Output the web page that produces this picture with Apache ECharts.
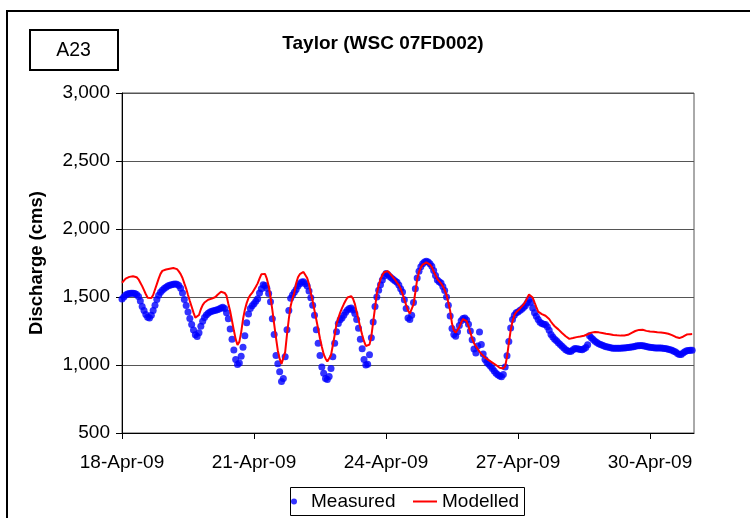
<!DOCTYPE html>
<html><head><meta charset="utf-8">
<script src="https://cdn.jsdelivr.net/npm/echarts@6/dist/echarts.min.js"></script>
<style>html,body{margin:0;padding:0;background:#fff}#c{width:750px;height:518px}</style>
</head><body><div id="c"></div>
<script>
// hourly values starting 18-Apr-09 00:00
const xTickHours = [0, 72, 144, 216, 288];
const xTickLabels = ['18-Apr-09', '21-Apr-09', '24-Apr-09', '27-Apr-09', '30-Apr-09'];
const yTickValues = [500, 1000, 1500, 2000, 2500, 3000];
const yTickLabels = ['500', '1,000', '1,500', '2,000', '2,500', '3,000'];

const measured = [
  1485,1500,1515,1522,1525,1527,1527,1525,1518,1503,1470,1430,1400,1372,1352,1346,1365,1400,1440,1482,1512,1535,1550,1562,
  1572,1580,1586,1590,1594,1596,1594,1585,1565,1530,1482,1438,1390,1342,1297,1257,1222,1210,1238,1285,1322,1350,1368,1380,
  1390,1395,1398,1402,1407,1412,1420,1425,1415,1385,1340,1265,1190,1110,1040,1003,1015,1065,1130,1215,1310,1375,1415,1435,
  1450,1468,1488,1530,1560,1590,1585,1565,1525,1465,1340,1225,1070,1010,950,878,900,1060,1260,1400,1490,1515,1535,1555,
  1580,1598,1610,1612,1598,1580,1545,1495,1440,1365,1260,1160,1070,985,940,900,893,915,975,1060,1160,1245,1305,1333,
  1345,1365,1388,1405,1415,1419,1405,1378,1335,1270,1190,1120,1040,1000,1005,1076,1200,1316,1430,1500,1550,1590,1625,1655,
  1672,1665,1650,1640,1628,1618,1608,1588,1560,1536,1480,1415,1345,1335,1365,1460,1560,1640,1690,1722,1745,1757,1762,1758,
  1745,1727,1695,1658,1625,1612,1603,1578,1548,1500,1440,1360,1268,1225,1212,1245,1290,1325,1342,1346,1330,1300,1250,1185,
  1118,1088,1140,1242,1150,1080,1040,1020,1005,990,975,955,940,928,920,914,930,985,1068,1172,1272,1335,1365,1385,
  1390,1400,1410,1422,1436,1456,1482,1462,1420,1385,1358,1335,1315,1305,1300,1297,1282,1255,1225,1205,1190,1178,1163,1150,
  1137,1125,1112,1104,1100,1102,1112,1122,1120,1117,1114,1113,1120,1128,1148,1215,1200,1188,1175,1165,1157,1150,1145,1140,
  1135,1132,1128,1125,1124,1123,1123,1123,1124,1125,1125,1126,1128,1130,1132,1135,1138,1141,1142,1143,1142,1140,1136,1132,
  1130,1128,1126,1125,1125,1125,1125,1124,1122,1119,1116,1113,1108,1102,1095,1085,1078,1078,1088,1098,1104,1107,1108,1108
];

const modelled = [
  1605,1618,1635,1644,1648,1651,1652,1650,1645,1630,1605,1580,1550,1520,1495,1485,1492,1515,1555,1595,1635,1670,1692,1698,
  1702,1705,1708,1711,1713,1712,1705,1688,1668,1640,1600,1562,1515,1470,1428,1385,1348,1352,1368,1410,1440,1460,1472,1480,
  1484,1488,1492,1500,1515,1525,1538,1543,1530,1510,1450,1395,1325,1255,1190,1148,1170,1240,1336,1405,1455,1492,1515,1530,
  1544,1575,1600,1635,1667,1678,1670,1635,1581,1500,1405,1300,1200,1105,1045,1008,1005,1095,1225,1340,1434,1490,1530,1600,
  1645,1668,1680,1684,1672,1640,1595,1530,1470,1400,1333,1265,1195,1135,1080,1048,1025,1030,1072,1145,1220,1300,1345,1385,
  1418,1448,1474,1496,1510,1506,1488,1450,1390,1335,1275,1222,1175,1140,1127,1150,1210,1315,1420,1525,1585,1630,1660,1682,
  1695,1690,1678,1660,1642,1625,1606,1588,1560,1525,1482,1440,1400,1378,1390,1445,1535,1630,1685,1718,1738,1750,1755,1752,
  1738,1720,1688,1660,1632,1620,1600,1580,1552,1515,1460,1398,1305,1255,1237,1248,1280,1312,1338,1343,1322,1285,1240,1195,
  1160,1137,1118,1098,1082,1068,1055,1045,1036,1028,1018,1008,1000,988,980,973,975,990,1060,1160,1255,1321,1365,1388,
  1402,1414,1428,1444,1465,1492,1518,1522,1496,1460,1425,1392,1378,1374,1370,1362,1353,1338,1318,1300,1285,1273,1262,1250,
  1235,1222,1211,1200,1192,1192,1198,1202,1205,1207,1209,1211,1215,1220,1226,1232,1238,1242,1243,1242,1240,1237,1235,1233,
  1230,1228,1226,1223,1221,1219,1218,1216,1216,1216,1217,1219,1222,1228,1236,1244,1250,1255,1258,1260,1259,1255,1251,1248,
  1246,1245,1244,1242,1240,1240,1239,1237,1235,1233,1230,1226,1220,1213,1206,1200,1198,1199,1208,1218,1224,1226,1227,1228
];

const FONT = '"Liberation Sans", Arial, Helvetica, sans-serif';
const chart = echarts.init(document.getElementById('c'), null, { renderer: 'canvas' });

chart.setOption({
  animation: false,
  backgroundColor: '#fff',
  textStyle: { fontFamily: FONT, color: '#000' },
  grid: {
    left: 122, top: 93, width: 572, height: 340,
    show: true, borderColor: '#555', borderWidth: 1, backgroundColor: 'transparent'
  },
  xAxis: {
    type: 'value', min: 0, max: 312, interval: 72,
    axisLine: { show: true, lineStyle: { color: '#000', width: 1 } },
    axisTick: { show: true, length: 6, customValues: xTickHours, lineStyle: { color: '#000' } },
    axisLabel: {
      customValues: xTickHours,
      formatter: v => { const i = xTickHours.indexOf(v); return i >= 0 ? xTickLabels[i] : ''; },
      fontSize: 19, margin: 20, color: '#000', fontFamily: FONT
    },
    splitLine: { show: false }
  },
  yAxis: {
    type: 'value', min: 500, max: 3000, interval: 500,
    name: 'Discharge (cms)', nameLocation: 'middle', nameGap: 76, nameRotate: 90,
    nameTextStyle: { fontSize: 18.5, fontWeight: 'bold', color: '#000', fontFamily: FONT },
    axisLine: { show: true, lineStyle: { color: '#000', width: 1 } },
    axisTick: { show: true, length: 6, lineStyle: { color: '#000' } },
    axisLabel: {
      formatter: v => { const i = yTickValues.indexOf(v); return i >= 0 ? yTickLabels[i] : ''; },
      fontSize: 19, margin: 12, color: '#000', fontFamily: FONT
    },
    splitLine: { show: true, lineStyle: { color: '#555', width: 1 } }
  },
  legend: [
    {
      data: [{ name: 'Measured', icon: 'circle' }],
      left: 291, top: 492, padding: 0, itemWidth: 24, itemHeight: 6,
      textStyle: { fontSize: 19, color: '#000', fontFamily: FONT }, selectedMode: false
    },
    {
      data: [{ name: 'Modelled', icon: 'path://M0,0L24,0L24,2L0,2Z' }],
      left: 413, top: 492, padding: 0, itemWidth: 24, itemHeight: 2,
      itemStyle: { color: '#ff0000' },
      textStyle: { fontSize: 19, color: '#000', fontFamily: FONT }, selectedMode: false
    }
  ],
  graphic: [
    { type: 'rect', shape: { x: 7, y: 11, width: 800, height: 600 }, style: { fill: 'none', stroke: '#000', lineWidth: 2 }, silent: true, z: 100 },
    { type: 'rect', shape: { x: 30, y: 30, width: 88, height: 40 }, style: { fill: '#fff', stroke: '#000', lineWidth: 2 }, silent: true, z: 100 },
    { type: 'text', x: 73.5, y: 51, style: { text: 'A23', fontSize: 19.5, fontFamily: FONT, fill: '#000', textAlign: 'center', textVerticalAlign: 'middle' }, silent: true, z: 101 },
    { type: 'text', x: 383, y: 44, style: { text: 'Taylor (WSC 07FD002)', fontSize: 19, fontWeight: 'bold', fontFamily: FONT, fill: '#000', textAlign: 'center', textVerticalAlign: 'middle' }, silent: true, z: 101 },
    { type: 'rect', shape: { x: 290.5, y: 487.5, width: 234, height: 28 }, style: { fill: 'none', stroke: '#000', lineWidth: 1 }, silent: true, z: 100 }
  ],
  series: [
    {
      name: 'Measured', type: 'scatter', symbol: 'circle', symbolSize: 7,
      itemStyle: { color: '#0000ff' },
      data: measured.map((v, i) => [i, v]), z: 2
    },
    {
      name: 'Modelled', type: 'line', showSymbol: false, symbol: 'none',
      lineStyle: { color: '#ff0000', width: 2 }, itemStyle: { color: '#ff0000' },
      data: modelled.map((v, i) => [i, v]), z: 3
    }
  ]
});
</script>
</body></html>
